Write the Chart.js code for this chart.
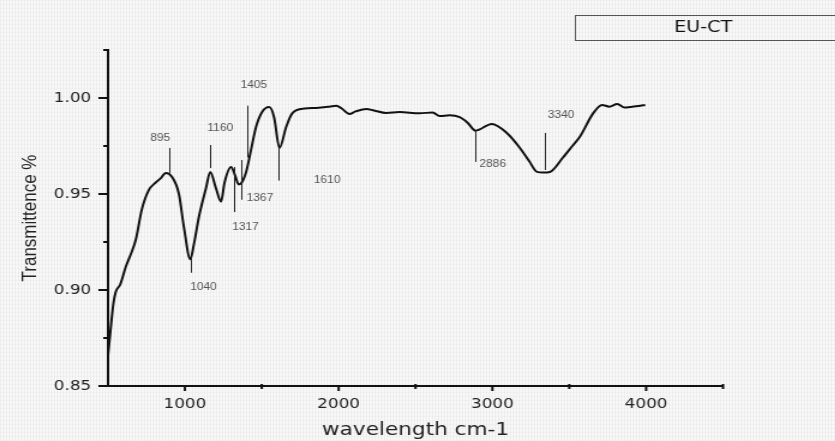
<!DOCTYPE html>
<html>
<head>
<meta charset="utf-8">
<script src="https://cdn.jsdelivr.net/npm/chart.js@4.4.1/dist/chart.umd.min.js"></script>
<style>
  html, body {
    margin: 0;
    padding: 0;
    overflow: hidden;
    width: 835px;
    height: 441px;
    background-color: #f7f7f7;
    background-image:
      repeating-linear-gradient(90deg, rgba(0,0,0,0.03) 0 1px, rgba(255,255,255,0) 1px 3px),
      repeating-linear-gradient(0deg, rgba(0,0,0,0.025) 0 1px, rgba(255,255,255,0) 1px 4px);
  }
  #wrap {
    width: 696px;
    height: 441px;
    transform: scaleX(1.2);
    transform-origin: 0 0;
  }
</style>
</head>
<body>
<div id="wrap"><canvas id="ftir" width="696" height="441"></canvas></div>
<script>
// FTIR spectrum of EU-CT
var wavenumber = [500, 515, 535, 550, 580, 615, 650, 680, 720, 765, 810, 840, 876, 915, 961, 993,
  1035, 1059, 1091, 1137, 1165, 1202, 1235, 1258, 1300, 1325, 1350, 1370, 1400, 1430, 1463, 1502,
  1548, 1580, 1615, 1659, 1698, 1780, 1854, 1940, 1985, 2020, 2070, 2110, 2180, 2230, 2310, 2396,
  2526, 2611, 2657, 2722, 2787, 2840, 2890, 2996, 3094, 3179, 3240, 3290, 3330, 3374, 3459, 3520,
  3570, 3655, 3713, 3760, 3812, 3860, 3896, 3950, 3994];
var transmittance = [0.866, 0.878, 0.893, 0.899, 0.903, 0.912, 0.919, 0.926, 0.942, 0.952, 0.956, 0.958,
  0.961, 0.959, 0.950, 0.933, 0.916, 0.924, 0.938, 0.953, 0.9615, 0.953, 0.946, 0.956, 0.964, 0.960,
  0.955, 0.956, 0.962, 0.973, 0.985, 0.9927, 0.9953, 0.990, 0.974, 0.985, 0.992, 0.9945, 0.9948,
  0.9955, 0.996, 0.9945, 0.9917, 0.993, 0.9943, 0.9935, 0.9922, 0.9927, 0.992, 0.9925, 0.9906, 0.991,
  0.990, 0.987, 0.983, 0.9865, 0.9818, 0.974, 0.967, 0.9615, 0.9612, 0.9615, 0.969, 0.975, 0.980,
  0.992, 0.9964, 0.9955, 0.9969, 0.995, 0.9953, 0.9958, 0.9964];

// peak markers: label, upper and lower end of the marker line
var peakLabels = ['895', '1040', '1160', '1317', '1367', '1405', '1610', '2886', '3340'];
var peakTop = [0.974, 0.917, 0.9755, 0.964, 0.9677, 0.996, 0.974, 0.983, 0.9818];
var peakBottom = [0.961, 0.909, 0.9635, 0.9406, 0.947, 0.969, 0.957, 0.9667, 0.9625];

var xTicks = [1000, 2000, 3000, 4000];
var xMinor = [1500, 2500, 3500, 4500];
var yTicks = [0.85, 0.90, 0.95, 1.00];
var yMinor = [0.875, 0.925, 0.975, 1.025];

var sampleName = 'EU-CT';

var points = wavenumber.map(function (w, i) { return { x: w, y: transmittance[i] }; });

// where each peak label sits relative to its marker line
var labelPlace = {
  '895':  { end: 'top', align: 'center', dx: -8, dy: -10 },
  '1040': { end: 'bottom', align: 'center', dx: 10, dy: 15 },
  '1160': { end: 'top', align: 'center', dx: 8, dy: -17 },
  '1317': { end: 'bottom', align: 'center', dx: 9, dy: 15 },
  '1367': { end: 'bottom', align: 'left', dx: 4, dy: -2 },
  '1405': { end: 'top', align: 'center', dx: 5, dy: -20 },
  '1610': { end: 'bottom', align: 'left', dx: 29, dy: 0 },
  '2886': { end: 'bottom', align: 'left', dx: 3, dy: 2 },
  '3340': { end: 'top', align: 'center', dx: 13, dy: -18 }
};

var peakMarks = {
  id: 'peakMarks',
  afterDatasetsDraw: function (chart) {
    var ctx = chart.ctx;
    var xs = chart.scales.x, ys = chart.scales.y;
    ctx.save();
    peakLabels.forEach(function (lab, i) {
      var px = Math.round(xs.getPixelForValue(Number(lab))) + 0.5;
      var yTop = ys.getPixelForValue(peakTop[i]);
      var yBot = ys.getPixelForValue(peakBottom[i]);
      ctx.strokeStyle = '#222';
      ctx.lineWidth = 1;
      ctx.beginPath();
      ctx.moveTo(px, yTop);
      ctx.lineTo(px, yBot);
      ctx.stroke();

      var p = labelPlace[lab];
      var ay = p.end === 'top' ? yTop : yBot;
      ctx.fillStyle = '#555';
      ctx.font = '10px "Liberation Sans", Arial, sans-serif';
      ctx.textAlign = p.align;
      ctx.textBaseline = 'middle';
      ctx.fillText(lab, px + p.dx, ay + p.dy);
    });
    ctx.restore();
  }
};

// short tick marks on both axes, minor ones shorter
var axisTicks = {
  id: 'axisTicks',
  afterDraw: function (chart) {
    var ctx = chart.ctx;
    var xs = chart.scales.x, ys = chart.scales.y;
    var area = chart.chartArea;
    ctx.save();
    ctx.strokeStyle = '#111';
    ctx.lineWidth = 2;
    ctx.beginPath();
    yTicks.forEach(function (v) {
      var py = ys.getPixelForValue(v);
      ctx.moveTo(area.left - 8, py); ctx.lineTo(area.left, py);
    });
    yMinor.forEach(function (v) {
      var py = ys.getPixelForValue(v);
      ctx.moveTo(area.left - 4, py); ctx.lineTo(area.left, py);
    });
    xTicks.forEach(function (v) {
      var px = xs.getPixelForValue(v);
      ctx.moveTo(px, area.bottom); ctx.lineTo(px, area.bottom + 5);
    });
    xMinor.forEach(function (v) {
      var px = xs.getPixelForValue(v);
      ctx.moveTo(px, area.bottom - 2); ctx.lineTo(px, area.bottom + 3);
    });
    ctx.stroke();
    ctx.restore();
  }
};

// boxed sample name in the top right corner
var nameBox = {
  id: 'nameBox',
  afterDraw: function (chart) {
    var ctx = chart.ctx;
    ctx.save();
    ctx.strokeStyle = '#555';
    ctx.lineWidth = 1;
    ctx.strokeRect(479.5, 15.5, 230, 25);
    ctx.fillStyle = '#111';
    ctx.font = '16px "DejaVu Sans", sans-serif';
    ctx.textAlign = 'center';
    ctx.textBaseline = 'middle';
    ctx.fillText(sampleName, 586, 28);
    ctx.restore();
  }
};

new Chart(document.getElementById('ftir'), {
  type: 'line',
  data: {
    datasets: [{
      data: points,
      borderColor: '#111',
      borderWidth: 2,
      pointRadius: 0,
      cubicInterpolationMode: 'monotone',
      fill: false
    }]
  },
  options: {
    responsive: false,
    animation: false,
    layout: { padding: { left: 0, top: 50, right: 93.5, bottom: 0 } },
    plugins: { legend: { display: false }, tooltip: { enabled: false } },
    scales: {
      x: {
        type: 'linear',
        min: 500,
        max: 4500,
        afterFit: function (s) { s.height = 55; },
        afterBuildTicks: function (s) { s.ticks = xTicks.map(function (v) { return { value: v }; }); },
        grid: { display: false, drawTicks: false },
        border: { display: true, color: '#111', width: 2 },
        ticks: {
          padding: 10,
          color: '#222',
          font: { family: '"DejaVu Sans", sans-serif', size: 14 },
          callback: function (v) { return String(v); }
        },
        title: {
          display: true,
          text: 'wavelength cm-1',
          color: '#222',
          font: { family: '"DejaVu Sans", sans-serif', size: 18 },
          padding: { top: 0, bottom: 0 }
        }
      },
      y: {
        min: 0.85,
        max: 1.025,
        afterFit: function (s) { s.width = 90; },
        afterBuildTicks: function (s) { s.ticks = yTicks.map(function (v) { return { value: v }; }); },
        grid: { display: false, drawTicks: false },
        border: { display: true, color: '#111', width: 2 },
        ticks: {
          padding: 14,
          color: '#222',
          font: { family: '"DejaVu Sans", sans-serif', size: 14 },
          callback: function (v) { return v.toFixed(2); }
        },
        title: {
          display: true,
          text: 'Transmittence %',
          color: '#222',
          font: { family: '"Liberation Sans", Arial, sans-serif', size: 17 },
          padding: { top: 15, bottom: 0 }
        }
      }
    }
  },
  plugins: [peakMarks, axisTicks, nameBox]
});
</script>
</body>
</html>
